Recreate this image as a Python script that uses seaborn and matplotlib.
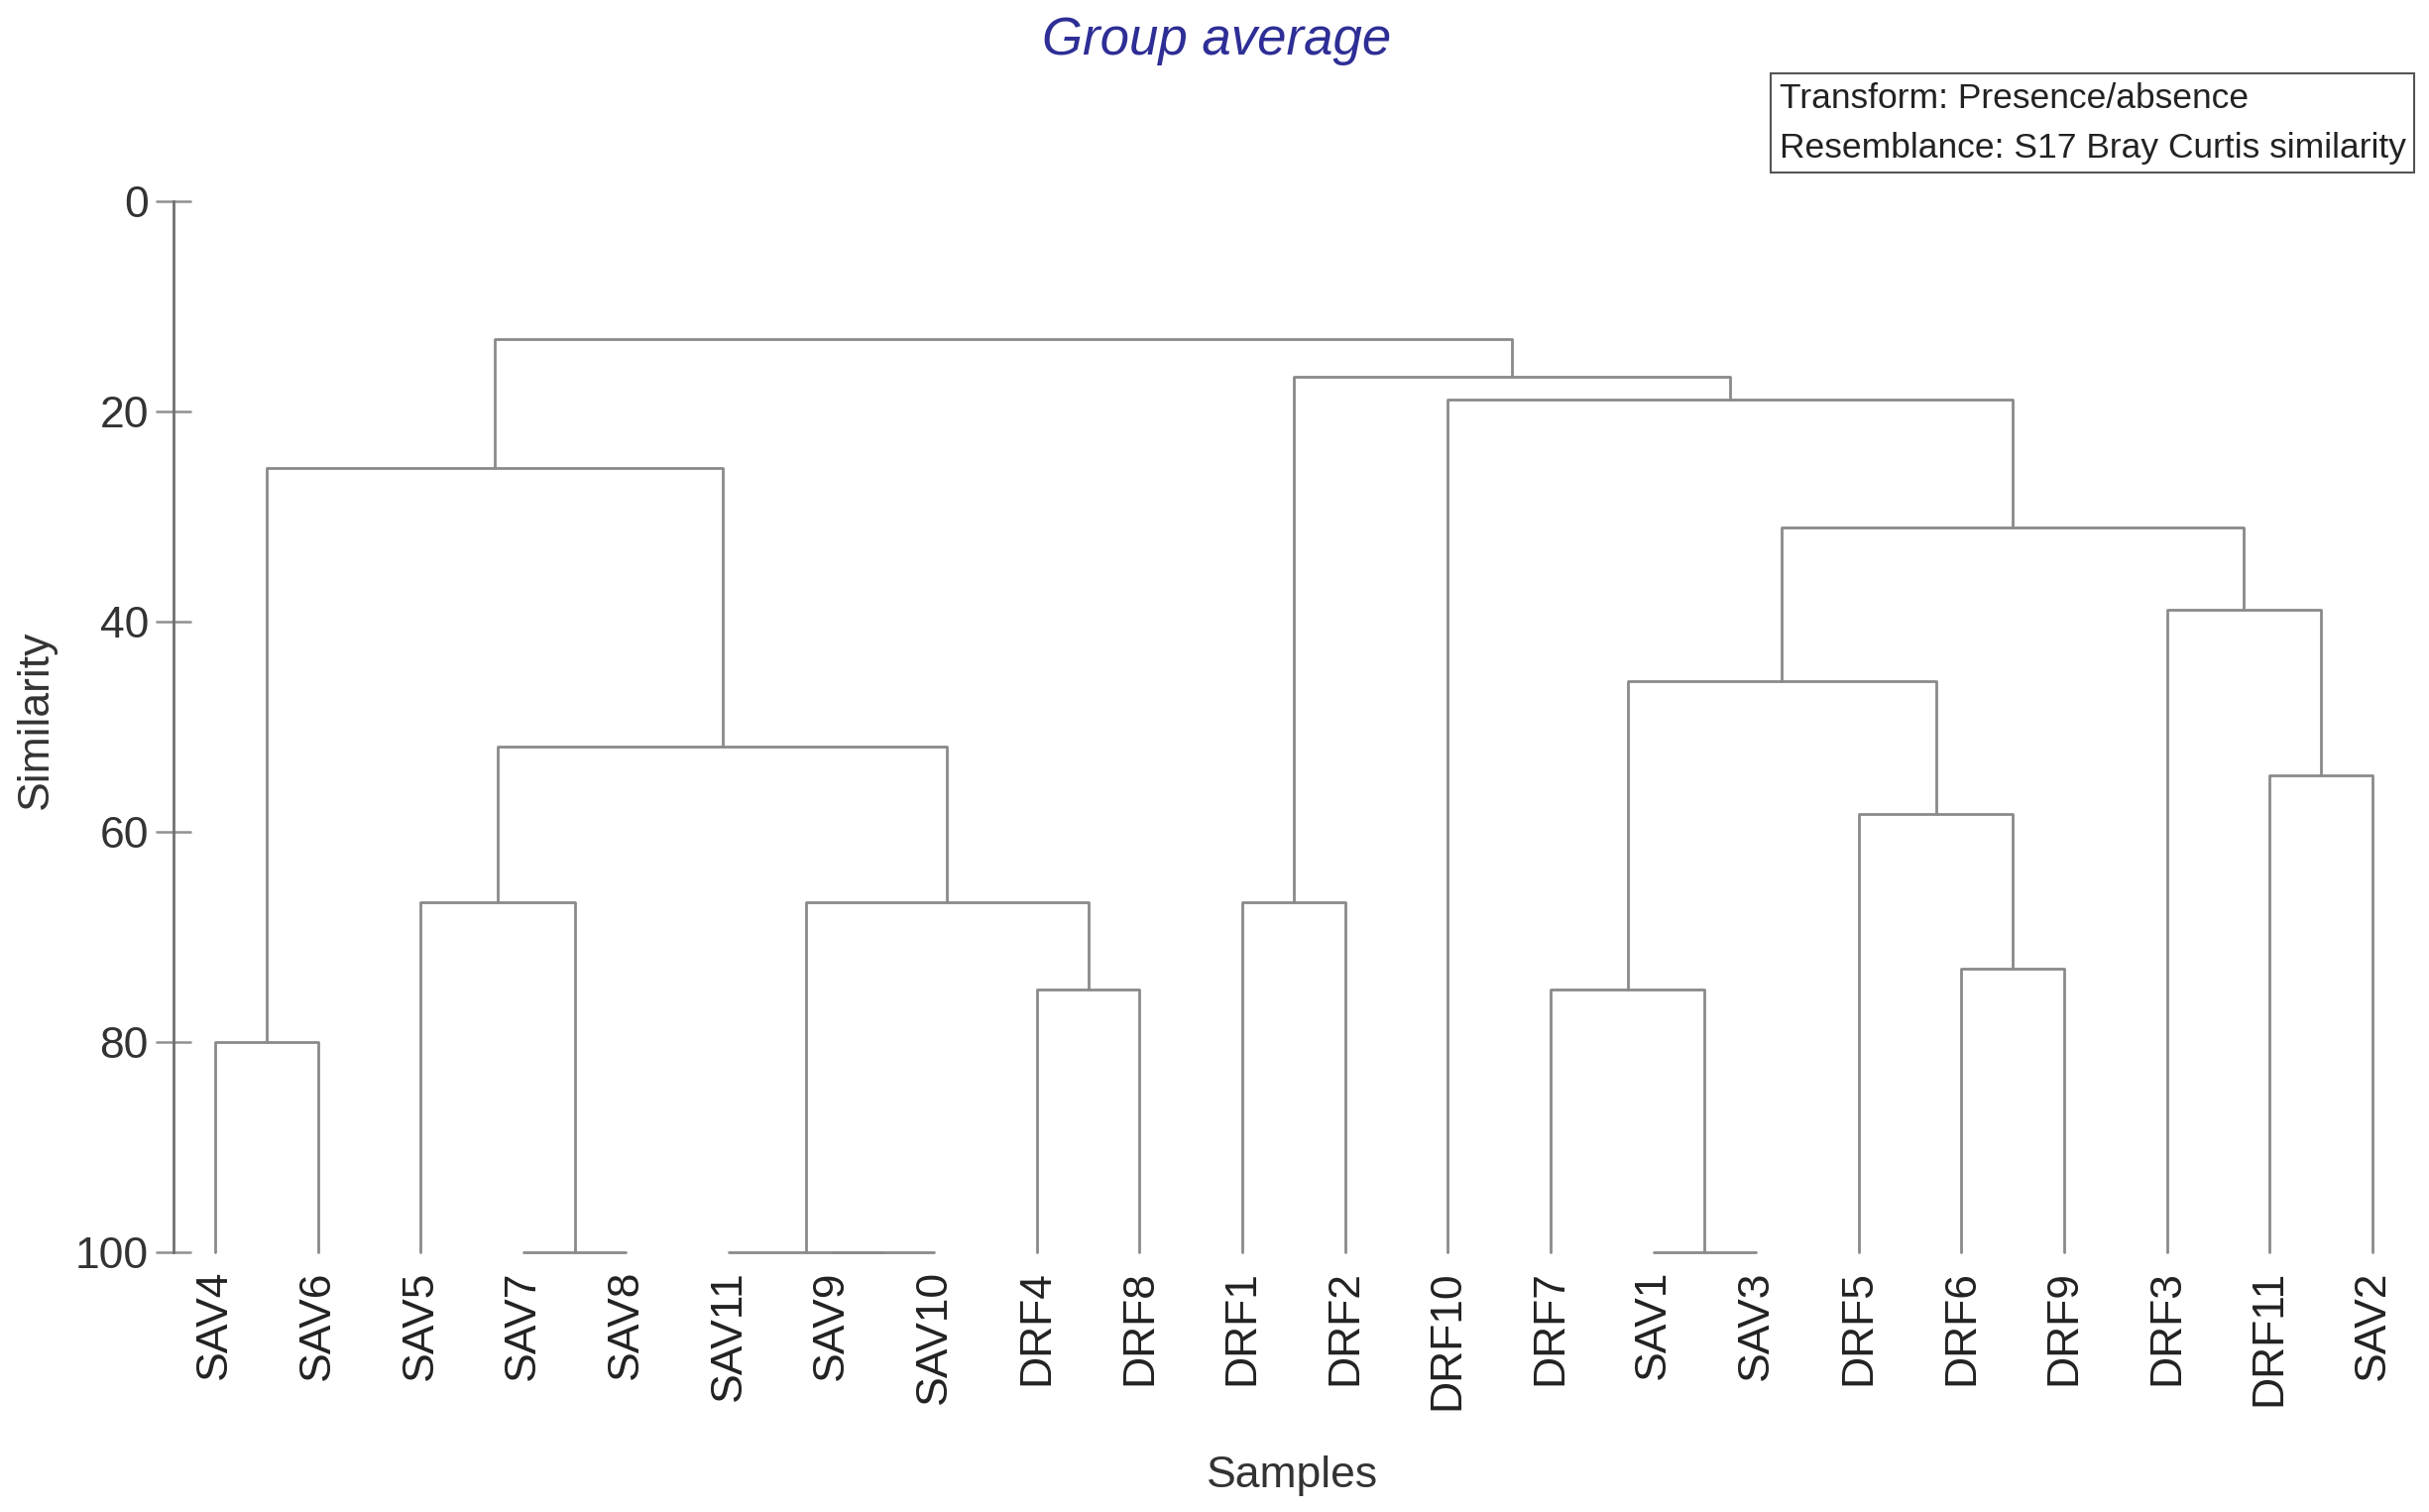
import matplotlib
matplotlib.use('Agg')

import matplotlib.pyplot as plt
import seaborn as sns
import pandas as pd

# leaf order along the x axis
LEAVES = ['SAV4', 'SAV6', 'SAV5', 'SAV7', 'SAV8', 'SAV11', 'SAV9', 'SAV10',
          'DRF4', 'DRF8', 'DRF1', 'DRF2', 'DRF10', 'DRF7', 'SAV1', 'SAV3',
          'DRF5', 'DRF6', 'DRF9', 'DRF3', 'DRF11', 'SAV2']

# merges: children are leaf names or the row number of an earlier merge
MERGE_LEFT = ['SAV7', 'SAV9', 'SAV11', 'SAV1', 'SAV4', 'DRF4', 'DRF7', 'DRF6',
              'SAV5', 2, 'DRF1', 'DRF5', 'DRF11', 8, 6, 'DRF3', 14, 4, 'DRF10', 10, 17]
MERGE_RIGHT = ['SAV8', 'SAV10', 1, 'SAV3', 'SAV6', 'DRF8', 3, 'DRF9',
               0, 5, 'DRF2', 7, 'SAV2', 9, 11, 12, 15, 13, 16, 18, 19]
MERGE_SIM = [100, 100, 100, 100, 80.0, 75.0, 75.0, 73.0,
             66.7, 66.7, 66.7, 58.3, 54.6, 51.9, 45.7, 38.9, 31.0, 25.4, 18.9, 16.7, 13.1]

Y_TICKS = [0, 20, 40, 60, 80, 100]

# build the U-shaped segments of the dendrogram
pos = {name: (i, 100.0) for i, name in enumerate(LEAVES)}
rows = []
for k, (a, b, s) in enumerate(zip(MERGE_LEFT, MERGE_RIGHT, MERGE_SIM)):
    xa, ya = pos[a]
    xb, yb = pos[b]
    for x, y in [(xa, ya), (xa, s), (xb, s), (xb, yb)]:
        rows.append({'seg': k, 'x': x, 'y': y})
    pos[k] = ((xa + xb) / 2, s)
segs = pd.DataFrame(rows)

sns.set_theme(style="white")
plt.rcParams['font.family'] = ['Liberation Sans', 'DejaVu Sans']

fig = plt.figure(figsize=(24.5, 15.25), dpi=100)
ax = fig.add_axes([0.0714, 0.1718, 0.918, 0.6951])

sns.lineplot(data=segs, x='x', y='y', units='seg', estimator=None, sort=False,
             color='#8a8a8a', linewidth=2.0, ax=ax, legend=False)
for line in ax.lines:
    line.set_clip_on(False)

ax.set_xlim(-0.405, 21.3)
ax.set_ylim(100, 0)
ax.set_xticks(range(len(LEAVES)))
ax.set_xticklabels(LEAVES, rotation=90, fontsize=32, color='#222222')
ax.set_yticks(Y_TICKS)
ax.set_yticklabels([str(t) for t in Y_TICKS], fontsize=32, color='#333333')
ax.tick_params(axis='x', length=0, pad=13)
ax.tick_params(axis='y', direction='inout', length=26, width=1.8, color='#909090', pad=5, left=True)

for side in ['top', 'right', 'bottom']:
    ax.spines[side].set_visible(False)
ax.spines['left'].set_color('#707070')
ax.spines['left'].set_linewidth(2.0)

ax.set_xlabel('Samples', fontsize=32, color='#333333', va='baseline')
ax.xaxis.set_label_coords(0.5016, -0.2236)
ax.set_ylabel('Similarity', fontsize=32, color='#333333', va='center')
ax.yaxis.set_label_coords(-0.0614, 0.5066)

fig.text(0.5008, 0.964, 'Group average', ha='center', va='baseline', fontsize=38,
         style='italic', color='#2e2e96')
fig.text(0.7325, 0.9186, 'Transform: Presence/absence\nResemblance: S17 Bray Curtis similarity',
         ha='left', va='center', fontsize=25.5, color='#222222', linespacing=1.65,
         bbox=dict(boxstyle='square,pad=0.25', facecolor='white', edgecolor='#555555', linewidth=1.5))

fig.savefig('out.png', dpi=100)
